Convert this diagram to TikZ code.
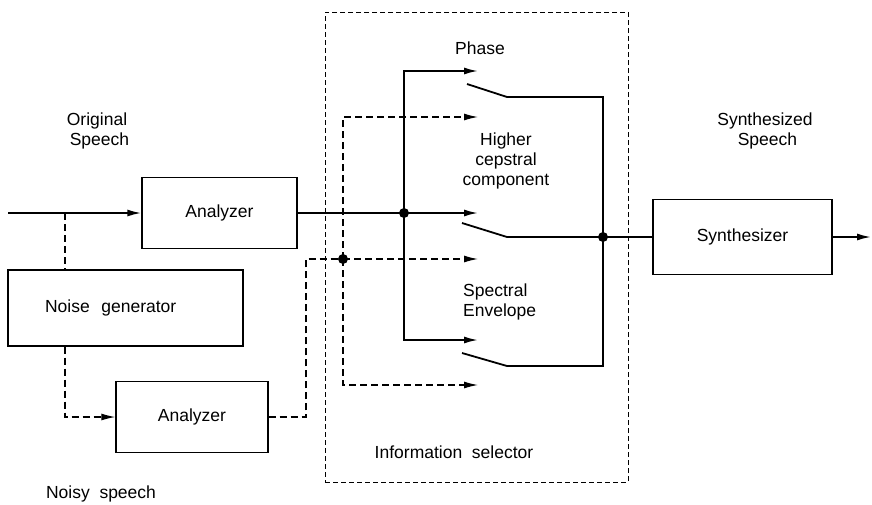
\documentclass[tikz,border=0pt]{standalone}
\usepackage{fontspec}
\setmainfont{Liberation Sans}
\usetikzlibrary{arrows.meta}
\newcommand\diagfont{\fontsize{17.5}{20}\selectfont}

\begin{document}
\begin{tikzpicture}[x=1pt,y=-1pt,
  blk/.style={draw,line width=1.3pt,inner sep=0pt,font=\diagfont},
  sig/.style={line width=1.8pt},
  sigarr/.style={sig,-{Latex[length=14pt,width=7pt]}},
  aux/.style={line width=1.2pt,dash pattern=on 7pt off 4pt},
  auxarr/.style={aux,-{Latex[length=14pt,width=7pt]}},
  frame/.style={line width=0.9pt,dash pattern=on 5pt off 3pt},
  dot/.style={circle,fill,inner sep=0pt,minimum size=10pt},
  txt/.style={font=\diagfont,align=center,inner sep=0pt}]
  \useasboundingbox (0,0) rectangle (872,504);
  % blocks
  \node[draw,frame,minimum width=303pt,minimum height=470pt] (sel) at (476.5,247) {};
  \node[blk,minimum width=155pt,minimum height=71pt] (ana1) at (219.5,213) {Analyzer};
  \node[blk,minimum width=235pt,minimum height=76pt,text width=161pt,inner xsep=37pt,align=left] (noise) at (125.5,308) {Noise\ \ generator};
  \node[blk,minimum width=152pt,minimum height=71pt] (ana2) at (192,417) {Analyzer};
  \node[blk,minimum width=179pt,minimum height=75pt] (synth) at (742.5,237) {Synthesizer};
  % labels
  \node[txt] (orig) at (97,131) {Original\\ \ Speech};
  \node[txt] (synsp) at (765,131) {Synthesized\\ \ Speech};
  \node[txt] (noisy) at (101,494) {Noisy\ \ speech};
  \node[txt] (phase) at (480,48) {Phase};
  \node[txt] (hcc) at (506,161) {Higher\\cepstral\\component};
  \node[txt,align=left,anchor=west] (spe) at (463,302) {Spectral\\Envelope};
  \node[txt] (infs) at (454,452) {Information\ \ selector};
  % points
  \coordinate (in) at (8,213);
  \coordinate (tap) at (65,213);
  \coordinate (bend) at (306,259);
  \coordinate (out) at (871,237);
  \coordinate (tPh) at (478,71);
  \coordinate (tPhN) at (478,117);
  \coordinate (tHc) at (478,213);
  \coordinate (tHcN) at (478,259);
  \coordinate (tSe) at (478,340);
  \coordinate (tSeN) at (478,385);
  \coordinate (sPh) at (467,84);
  \coordinate (pPh) at (507,97);
  \coordinate (sHc) at (462,223);
  \coordinate (pHc) at (507,237);
  \coordinate (sSe) at (462,353);
  \coordinate (pSe) at (507,366);
  \node[dot] (dS) at (404,213) {};
  \node[dot] (dN) at (343,259) {};
  \node[dot] (dO) at (603,237) {};
  % clean speech
  \draw[sigarr] (in) -- (ana1);
  \draw[sig] (ana1.east) -- (dS.center);
  \draw[sigarr] (dS.center) |- (tPh);
  \draw[sigarr] (dS.center) -- (tHc);
  \draw[sigarr] (dS.center) |- (tSe);
  % noisy speech
  \draw[aux] (tap) -- (tap |- noise.north);
  \draw[auxarr] (tap |- noise.south) |- (ana2.west);
  \draw[aux] (ana2.east) -| (bend) -- (dN.center);
  \draw[auxarr] (dN.center) |- (tPhN);
  \draw[auxarr] (dN.center) -- (tHcN);
  \draw[auxarr] (dN.center) |- (tSeN);
  % switches
  \draw[sig] (sPh) -- (pPh) -| (dO.center);
  \draw[sig] (sHc) -- (pHc) -- (dO.center);
  \draw[sig] (sSe) -- (pSe) -| (dO.center);
  \draw[sig] (dO.center) -- (synth.west);
  \draw[sigarr] (synth.east) -- (out);
\end{tikzpicture}
\end{document}
